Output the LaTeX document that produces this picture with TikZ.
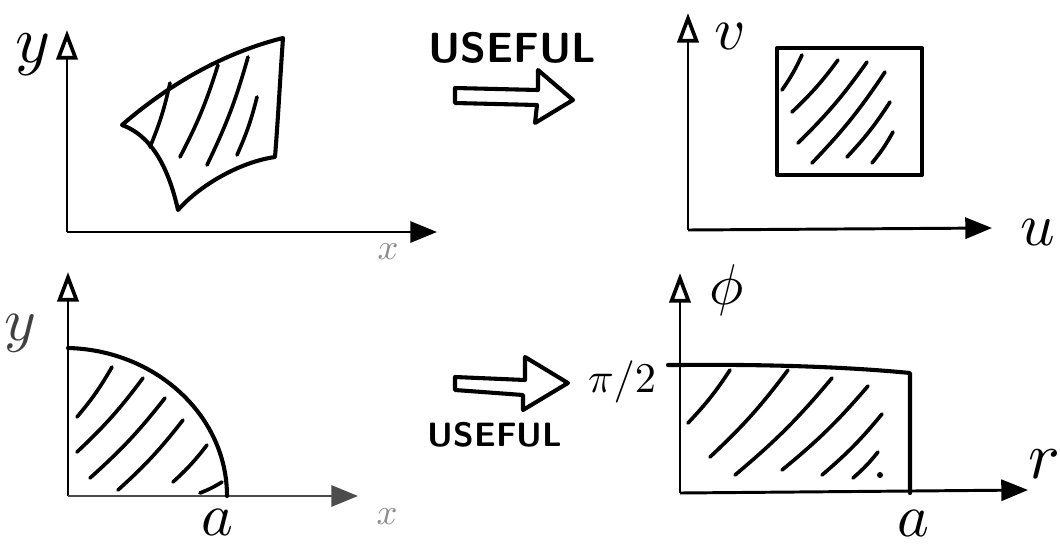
\documentclass[tikz,border=0pt]{standalone}
\usetikzlibrary{arrows.meta}

\begin{document}
\begin{tikzpicture}
    [x=0.025cm, y=-0.025cm,
    haxis/.style={line width=2.1pt, -{Triangle[length=19pt,width=15pt]}},
    vaxis/.style={line width=2.1pt, -{Triangle[open,length=21pt,width=15pt,line width=2.6pt]}},
    edge/.style={line width=2.9pt, line join=round, line cap=round},
    hatch/.style={line width=2.6pt, line cap=round},
    lbl/.style={inner sep=0pt, scale=4.3},
    faint/.style={inner sep=0pt, scale=2.6, text=black!45},
    word/.style={inner sep=0pt, font=\sffamily\bfseries}]
        \useasboundingbox (0,0) rectangle (1060,547);

        % x,y plane, general region
        \coordinate (O1) at (67,232);
        \coordinate (Y1) at (67,30);
        \coordinate (X1) at (437,232);
        \draw[vaxis] (O1) to (Y1);
        \draw[haxis] (O1) to (X1);
        \node[lbl, scale=1.1] (ly1) at (33,55) {$y$};
        \node[faint] (lx1) at (388,252) {$x$};
        \draw[edge] (122,125) .. controls (160,92) and (215,55) .. (283,38)
            .. controls (280,80) and (278,120) .. (275,157)
            .. controls (240,162) and (200,185) .. (178,210)
            .. controls (168,165) and (150,135) .. cycle;
        \draw[hatch] (170,83) to[bend left=5] (150,147);
        \draw[hatch] (218,65) to[bend left=5] (180,157);
        \draw[hatch] (248,57) to[bend left=5] (207,165);
        \draw[hatch] (257,97) to[bend left=5] (237,155);

        % top transform
        \draw[edge] (455,88) -- (538,90) -- (538,70) -- (573,100) -- (535,123) -- (537,105) -- (455,103) -- cycle;
        \node[word, scale=3] (use1) at (512,48) {USEFUL};

        % u,v plane, square
        \coordinate (O2) at (688,230);
        \coordinate (V2) at (688,13);
        \coordinate (U2) at (992,228);
        \draw[vaxis] (O2) to (V2);
        \draw[haxis] (O2) to (U2);
        \node[lbl] (lv2) at (730,36) {$v$};
        \node[lbl] (lu2) at (1038,232) {$u$};
        \draw[edge] (777,48) rectangle (922,175);
        \draw[hatch] (802,55) to[bend left=5] (782,90);
        \draw[hatch] (838,60) to[bend left=5] (792,112);
        \draw[hatch] (867,62) to[bend left=5] (798,143);
        \draw[hatch] (885,72) to[bend left=5] (812,163);
        \draw[hatch] (890,102) to[bend left=5] (847,157);
        \draw[hatch] (893,132) to[bend left=5] (872,163);

        % x,y plane, quarter disc
        \coordinate (O3) at (68,496);
        \coordinate (Y3) at (68,272);
        \coordinate (X3) at (358,496);
        \draw[vaxis] (O3) to (Y3);
        \draw[haxis, draw=black!70, fill=black!70] (O3) to (X3);
        \node[lbl, text=black!75] (ly3) at (20,333) {$y$};
        \node[faint] (lx3) at (387,517) {$x$};
        \node[lbl] (la3) at (217,522) {$a$};
        \draw[edge] (68,348) .. controls (155,350) and (227,415) .. (227,496);
        \draw[hatch] (112,367) to[bend left=5] (77,417);
        \draw[hatch] (143,378) to[bend left=5] (77,452);
        \draw[hatch] (165,398) to[bend left=5] (90,478);
        \draw[hatch] (183,420) to[bend left=5] (118,490);
        \draw[hatch] (207,445) to[bend left=5] (173,482);
        \draw[hatch] (222,482) to[bend left=5] (200,493);

        % bottom transform
        \draw[edge] (455,377) -- (525,380) -- (525,357) -- (568,383) -- (523,410) -- (523,395) -- (455,390) -- cycle;
        \node[word, scale=2.4] (use2) at (495,435) {USEFUL};

        % r,phi plane, rectangle
        \coordinate (O4) at (680,493);
        \coordinate (P4) at (680,273);
        \coordinate (R4) at (1028,490);
        \draw[vaxis] (O4) to (P4);
        \draw[haxis] (O4) to (R4);
        \node[lbl, scale=0.95] (lp4) at (727,290) {$\phi$};
        \node[lbl, scale=0.7] (lh4) at (622,382) {$\pi/2$};
        \node[lbl, scale=1.1] (lr4) at (1044,464) {$r$};
        \node[lbl] (la4) at (913,523) {$a$};
        \draw[edge] (668,365) -- (680,365) .. controls (780,364) and (860,368) .. (910,373) -- (910,493);
        \draw[hatch] (730,370) to[bend left=5] (688,423);
        \draw[hatch] (788,370) to[bend left=5] (710,457);
        \draw[hatch] (832,378) to[bend left=5] (735,475);
        \draw[hatch] (868,386) to[bend left=5] (782,470);
        \draw[hatch] (882,414) to[bend left=5] (822,475);
        \draw[hatch] (878,452) to[bend left=5] (853,478);
        \fill (880,475) circle (3);
   \end{tikzpicture}
\end{document}
